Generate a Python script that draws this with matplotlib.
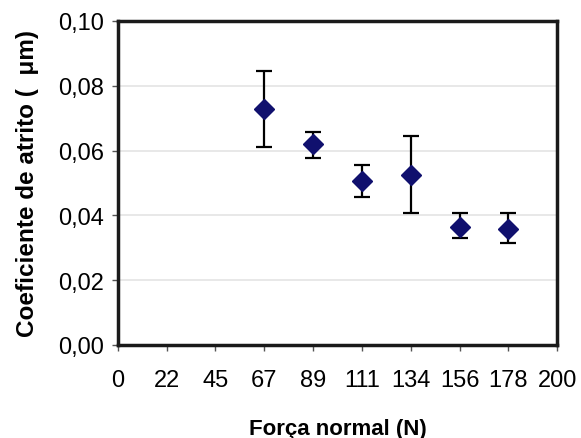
import numpy as np
import matplotlib
matplotlib.use("Agg")
import matplotlib.pyplot as plt
from matplotlib.ticker import FixedLocator, FuncFormatter

# Normal load levels (N) and measured friction coefficients
forca = [66.7, 88.9, 111.1, 133.3, 155.6, 177.8]
coef = [0.0728, 0.0620, 0.0505, 0.0523, 0.0363, 0.0358]
erro_inf = [0.0116, 0.0042, 0.0049, 0.0117, 0.0034, 0.0042]
erro_sup = [0.0117, 0.0038, 0.0051, 0.0122, 0.0044, 0.0049]

x_ticks = [0, 22.2, 44.4, 66.7, 88.9, 111.1, 133.3, 155.6, 177.8, 200]
x_labels = ["0", "22", "45", "67", "89", "111", "134", "156", "178", "200"]
y_ticks = [0.00, 0.02, 0.04, 0.06, 0.08, 0.10]

plt.rcParams["font.family"] = ["Liberation Sans", "DejaVu Sans"]

fig = plt.figure(figsize=(5.81, 4.39), dpi=100)
ax = fig.add_axes([0.203, 0.212, 0.756, 0.738])

ax.errorbar(forca, coef, yerr=[erro_inf, erro_sup], fmt="D",
            color="#10106e", markersize=10.5, ecolor="black",
            elinewidth=1.6, capsize=6, capthick=1.6, zorder=3)

ax.set_xlim(0, 200)
ax.set_ylim(0, 0.10)
ax.xaxis.set_major_locator(FixedLocator(x_ticks))
ax.set_xticklabels(x_labels)
ax.yaxis.set_major_locator(FixedLocator(y_ticks))
ax.yaxis.set_major_formatter(FuncFormatter(lambda v, p: f"{v:.2f}".replace(".", ",")))

ax.grid(axis="y", color="#e4e4e4", linewidth=1.2, zorder=0)
for s in ax.spines.values():
    s.set_linewidth(2.5)
    s.set_color("#1a1a1a")

ax.tick_params(axis="both", direction="out", length=4, width=1,
               color="#555555", labelsize=17, pad=6)
ax.tick_params(axis="x", pad=13)

ax.set_xlabel("Força normal (N)", fontsize=16, fontweight="bold", labelpad=20)
ax.set_ylabel("Coeficiente de atrito (  μm)", fontsize=17.5, fontweight="bold", labelpad=14)

fig.savefig("out.png", dpi=100, facecolor="white")
